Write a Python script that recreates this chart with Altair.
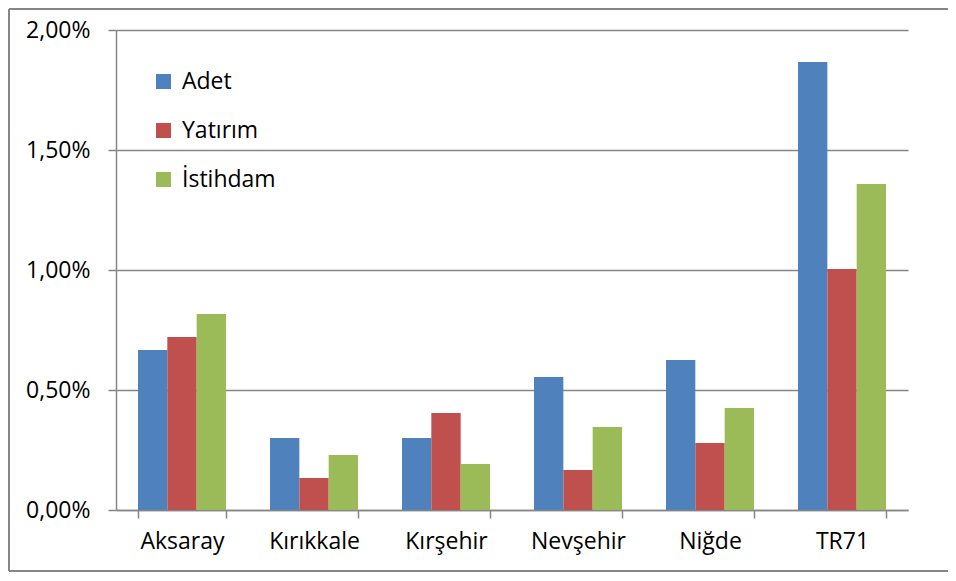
import altair as alt
import pandas as pd

regions = ["Aksaray", "Kırıkkale", "Kırşehir", "Nevşehir", "Niğde", "TR71"]
series = ["Adet", "Yatırım", "İstihdam"]
adet = [0.00667, 0.00300, 0.00300, 0.00554, 0.00625, 0.01867]
yatirim = [0.00721, 0.00133, 0.00404, 0.00167, 0.00279, 0.01004]
istihdam = [0.00817, 0.00229, 0.00192, 0.00346, 0.00425, 0.01358]
colors = ["#4F81BD", "#C0504D", "#9BBB59"]

rows = []
for i, r in enumerate(regions):
    for s, vals in zip(series, [adet, yatirim, istihdam]):
        rows.append({"Bölge": r, "Seri": s, "Değer": vals[i]})
df = pd.DataFrame(rows)

FONT = "Open Sans"
FS = 23
GRID = "#868686"

bars = alt.Chart(df).mark_bar().encode(
    x=alt.X("Bölge:N", sort=regions, title=None,
            scale=alt.Scale(paddingInner=0.333, paddingOuter=0.1665),
            axis=alt.Axis(labelAngle=0, tickBand="extent", tickSize=8,
                          labelPadding=12, domainColor=GRID, tickColor=GRID,
                          labelFont=FONT, labelFontSize=FS, labelColor="#000000",
                          domainWidth=1.5, tickWidth=1.5)),
    xOffset=alt.XOffset("Seri:N", sort=series),
    y=alt.Y("Değer:Q", title=None,
            scale=alt.Scale(domain=[0, 0.02]),
            axis=alt.Axis(values=[0, 0.005, 0.01, 0.015, 0.02],
                          labelExpr="replace(format(datum.value, '.2%'), '.', ',')",
                          tickSize=8, labelPadding=18, gridColor=GRID, gridWidth=1.5,
                          domainColor=GRID, tickColor=GRID, domainWidth=1.5, tickWidth=1.5,
                          labelFont=FONT, labelFontSize=FS, labelColor="#000000")),
    color=alt.Color("Seri:N", sort=series,
                    scale=alt.Scale(domain=series, range=colors),
                    legend=alt.Legend(title=None, orient="none", legendX=36, legendY=40,
                                      symbolType="square", symbolSize=225,
                                      symbolStrokeWidth=0, symbolOpacity=1,
                                      labelFont=FONT, labelFontSize=FS,
                                      labelColor="#000000", rowPadding=25,
                                      labelOffset=7)),
)

left = alt.Chart(df).mark_rule(stroke=GRID, strokeWidth=2).encode(
    x=alt.value(-107), y=alt.value(-21), y2=alt.value(541))
top = alt.Chart(df).mark_rule(stroke=GRID, strokeWidth=2).encode(
    x=alt.value(-107), x2=alt.value(832), y=alt.value(-21))
bottom = alt.Chart(df).mark_rule(stroke=GRID, strokeWidth=2).encode(
    x=alt.value(-107), x2=alt.value(832), y=alt.value(541))

chart = alt.layer(bars, left, top, bottom).properties(
    width=792, height=480,
    background="white",
    autosize=alt.AutoSizeParams(type="none"),
    padding={"left": 108, "top": 22, "right": 40, "bottom": 63},
).configure_view(stroke=None)

chart.save("out.html", embed_options={"renderer": "svg", "actions": False})
